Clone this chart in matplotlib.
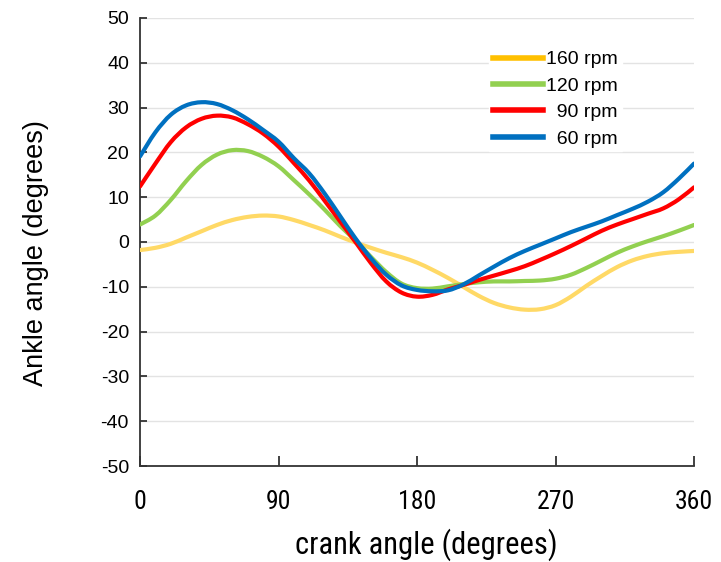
import numpy as np
import matplotlib
matplotlib.use("Agg")
import matplotlib.pyplot as plt
from matplotlib import font_manager
from matplotlib.lines import Line2D
from matplotlib.path import Path
from matplotlib.patches import PathPatch

# crank angle samples (degrees)
crank = np.arange(0, 361, 10)

# ankle angle (degrees)
rpm160 = [-1.8, -1.3, -0.4, 1.0, 2.4, 3.8, 4.9, 5.6, 5.9, 5.7,
          4.9, 3.8, 2.6, 1.2, -0.1, -1.3, -2.4, -3.4, -4.6, -6.2,
          -8.0, -10.0, -12.0, -13.6, -14.6, -15.1, -15.0, -14.1, -12.2, -9.8,
          -7.6, -5.6, -4.1, -3.1, -2.5, -2.2, -2.0]
rpm120 = [3.9, 5.9, 9.4, 13.6, 17.2, 19.5, 20.5, 20.3, 19.0, 16.9,
          13.8, 10.6, 7.2, 3.6, 0.3, -3.3, -6.7, -9.3, -10.3, -10.4,
          -9.9, -9.4, -9.0, -8.8, -8.8, -8.7, -8.6, -8.2, -7.3, -5.8,
          -4.1, -2.4, -1.0, 0.2, 1.3, 2.5, 3.8]
rpm90 = [12.4, 17.5, 22.3, 25.6, 27.5, 28.2, 27.8, 26.3, 24.2, 21.3,
         17.6, 13.7, 9.2, 4.6, 0.0, -4.7, -8.8, -11.3, -12.2, -11.8,
         -10.6, -9.6, -8.5, -7.5, -6.5, -5.4, -4.0, -2.5, -0.9, 0.8,
         2.5, 3.9, 5.1, 6.3, 7.5, 9.5, 12.2]
rpm60 = [19.1, 24.5, 28.4, 30.5, 31.2, 30.8, 29.4, 27.4, 25.0, 22.4,
         18.7, 15.3, 10.8, 5.8, 0.8, -3.6, -7.3, -9.7, -10.7, -11.0,
         -10.8, -9.5, -7.5, -5.5, -3.6, -2.0, -0.6, 0.8, 2.2, 3.4,
         4.6, 6.0, 7.4, 9.0, 11.1, 14.1, 17.5]

labels = ["160 rpm", "120 rpm", "  90 rpm", "  60 rpm"]
line_colors = ["#FFD966", "#92D050", "#FF0000", "#0070C0"]
legend_colors = ["#FFC000", "#92D050", "#FF0000", "#0070C0"]

xticks = [0, 90, 180, 270, 360]
yticks = np.arange(-50, 51, 10)


def pick_font(names):
    for n in names:
        try:
            font_manager.findfont(n, fallback_to_default=False)
            return n
        except Exception:
            pass
    return 'DejaVu Sans'


regular = pick_font(['Liberation Sans', 'Arimo', 'Roboto'])
narrow = pick_font(['Liberation Sans Narrow', 'Roboto Condensed',
                    'DejaVu Sans Condensed', regular])
plt.rcParams['font.family'] = [regular, 'DejaVu Sans']
plt.rcParams['axes.unicode_minus'] = False


def smooth_path(xs, ys, t=1 / 6):
    # excel-like smoothed line: cubic bezier through the points
    p = np.column_stack([xs, ys]).astype(float)
    pts = [p[0]]
    codes = [Path.MOVETO]
    n = len(p)
    for i in range(n - 1):
        p0 = p[i - 1] if i > 0 else p[i]
        p3 = p[i + 2] if i + 2 < n else p[i + 1]
        c1 = p[i] + (p[i + 1] - p0) * t
        c2 = p[i + 1] - (p3 - p[i]) * t
        pts += [c1, c2, p[i + 1]]
        codes += [Path.CURVE4] * 3
    return Path(pts, codes)


fig = plt.figure(figsize=(7.21, 5.62), dpi=100)
ax = fig.add_axes([0.1942, 0.1708, 0.7684, 0.7972])

for ys, c in zip([rpm160, rpm120, rpm90, rpm60], line_colors):
    ax.add_patch(PathPatch(smooth_path(crank, ys), fill=False, edgecolor=c,
                           lw=3, capstyle='round', joinstyle='round', zorder=3))

ax.set_xlim(0, 360)
ax.set_ylim(-50, 50)
ax.set_xticks(xticks)
ax.set_yticks(yticks)
ax.yaxis.grid(True, color='#E3E3E3', lw=1)
ax.set_axisbelow(True)

for s in ['top', 'right']:
    ax.spines[s].set_visible(False)
for s in ['left', 'bottom']:
    ax.spines[s].set_color('#333333')
    ax.spines[s].set_linewidth(1.3)

ax.tick_params(axis='y', direction='in', length=5, width=1.3,
               color='#333333', labelsize=14, pad=8)
ax.tick_params(axis='x', direction='in', length=7, width=1.3,
               color='#333333', labelsize=18.5, pad=17)
for t in ax.get_xticklabels():
    t.set_family(narrow)

ax.set_xlabel('crank angle (degrees)', fontsize=22, family=narrow)
ax.xaxis.set_label_coords(0.516, -0.14)
ax.set_ylabel('Ankle angle (degrees)', fontsize=19.5)
ax.yaxis.set_label_coords(-0.165, 0.475)

handles = [Line2D([0], [0], color=c, lw=4) for c in legend_colors]
leg = ax.legend(handles, labels, loc='upper left', bbox_to_anchor=(0.612, 0.957),
                fontsize=14, frameon=True, framealpha=1, edgecolor='white',
                facecolor='white', handlelength=2.6, handletextpad=0.15,
                labelspacing=0.45, borderpad=0.2, fancybox=False)

fig.savefig('out.png', dpi=100)
